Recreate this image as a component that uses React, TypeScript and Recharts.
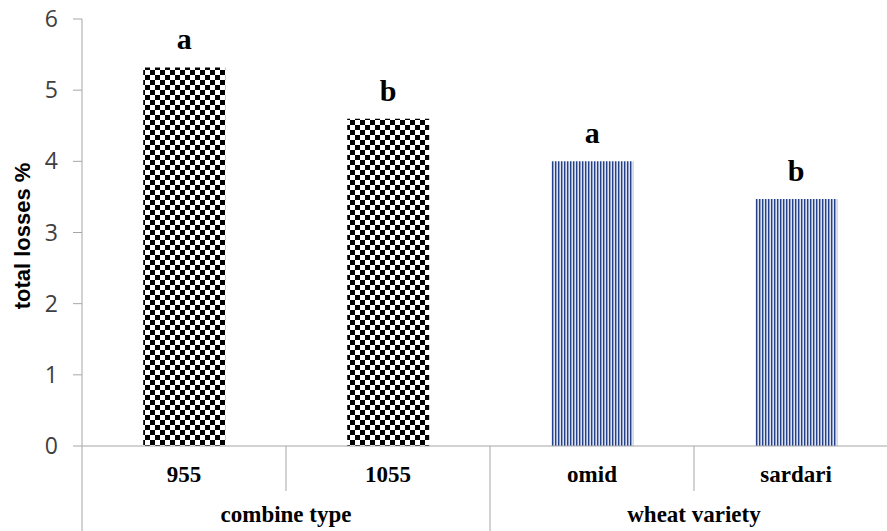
import React from "react";
import { BarChart, Bar, XAxis, YAxis, Cell, LabelList, Label } from "recharts";

const categories = ["955", "1055", "omid", "sardari"];
const totalLosses = [5.32, 4.6, 4.0, 3.47];
const letters = ["a", "b", "a", "b"];
const groups = ["combine type", "wheat variety"];
const groupOfCategory = [0, 0, 1, 1];
const yTicks = [0, 1, 2, 3, 4, 5, 6];

const data = categories.map((c, i) => ({
  name: c,
  value: totalLosses[i],
  letter: letters[i],
  group: groupOfCategory[i],
}));

const CHART_W = 898;
const CHART_H = 531;
const LEFT = 82;
const TOP = 19;
const XAXIS_H = 85;
const PLOT_W = CHART_W - LEFT;
const BAND = PLOT_W / categories.length;
const AXIS_COLOR = "#a6a6a6";
const SERIF = "'Liberation Serif', 'Times New Roman', serif";
const SANS = "'Open Sans', 'Liberation Sans', sans-serif";

const patternIds = ["checker", "stripes"];

const XTick = (props: any) => {
  const { x, y, payload, index } = props;
  const i = index as number;
  const isGroupStart = i === 0 || groupOfCategory[i] !== groupOfCategory[i - 1];
  let span = 1;
  if (isGroupStart) {
    let j = i + 1;
    while (j < categories.length && groupOfCategory[j] === groupOfCategory[i]) {
      span++;
      j++;
    }
  }
  return (
    <g>
      <text
        x={x}
        y={y + 36}
        textAnchor="middle"
        fontFamily={SERIF}
        fontWeight="bold"
        style={{ fontSize: 23 }}
        fill="#000"
      >
        {payload.value}
      </text>
      <line
        x1={x - BAND / 2}
        x2={x - BAND / 2}
        y1={y}
        y2={isGroupStart ? y + XAXIS_H : y + 45}
        stroke={AXIS_COLOR}
        strokeWidth={1}
      />
      {isGroupStart ? (
        <text
          x={x - BAND / 2 + (BAND * span) / 2}
          y={y + 76}
          textAnchor="middle"
          fontFamily={SERIF}
          fontWeight="bold"
          style={{ fontSize: 23 }}
          fill="#000"
        >
          {groups[groupOfCategory[i]]}
        </text>
      ) : null}
    </g>
  );
};

const LetterLabel = (props: any) => {
  const { x, y, width, value } = props;
  return (
    <text
      x={x + width / 2}
      y={y - 18}
      textAnchor="middle"
      fontFamily={SERIF}
      fontWeight="bold"
      style={{ fontSize: 30 }}
      fill="#000"
    >
      {value}
    </text>
  );
};

export default function App() {
  return (
    <div
      style={{
        position: "absolute",
        left: 0,
        top: 0,
        width: 887,
        height: 531,
        overflow: "hidden",
        background: "#fff",
      }}
    >
      <BarChart
        width={CHART_W}
        height={CHART_H}
        data={data}
        margin={{ top: TOP, right: 0, bottom: 0, left: 0 }}
        barCategoryGap="30%"
      >
        <defs>
          <pattern id="checker" patternUnits="userSpaceOnUse" width={10} height={10}>
            <rect x={0} y={0} width={10} height={10} fill="#fff" />
            <rect x={0} y={0} width={5} height={5} fill="#000" />
            <rect x={5} y={5} width={5} height={5} fill="#000" />
          </pattern>
          <pattern id="stripes" patternUnits="userSpaceOnUse" width={3} height={3}>
            <rect x={0} y={0} width={3} height={3} fill="#f2f4f9" />
            <rect x={0} y={0} width={1.4} height={3} fill="#24418a" />
            <rect x={1.4} y={0} width={0.8} height={3} fill="#8c9cc6" />
          </pattern>
        </defs>
        <XAxis
          dataKey="name"
          height={XAXIS_H}
          tickLine={false}
          tickSize={0}
          tickMargin={0}
          axisLine={{ stroke: AXIS_COLOR }}
          tick={<XTick />}
          interval={0}
        />
        <YAxis
          width={LEFT}
          domain={[0, 6]}
          ticks={yTicks}
          interval={0}
          tickSize={9}
          tickMargin={15}
          axisLine={{ stroke: AXIS_COLOR }}
          tickLine={{ stroke: AXIS_COLOR }}
          tick={{ fontFamily: SANS, fontSize: 23, fill: "#404040" }}
        >
          <Label
            content={() => (
              <text
                x={0}
                y={0}
                transform="translate(30, 236) rotate(-90)"
                textAnchor="middle"
                fontFamily="'Liberation Sans', Arial, sans-serif"
                fontWeight="bold"
                style={{ fontSize: 22 }}
                fill="#000"
              >
                total losses %
              </text>
            )}
          />
        </YAxis>
        <Bar dataKey="value" isAnimationActive={false}>
          {data.map((d, i) => (
            <Cell key={i} fill={`url(#${patternIds[d.group]})`} />
          ))}
          <LabelList dataKey="letter" content={<LetterLabel />} />
        </Bar>
      </BarChart>
    </div>
  );
}
